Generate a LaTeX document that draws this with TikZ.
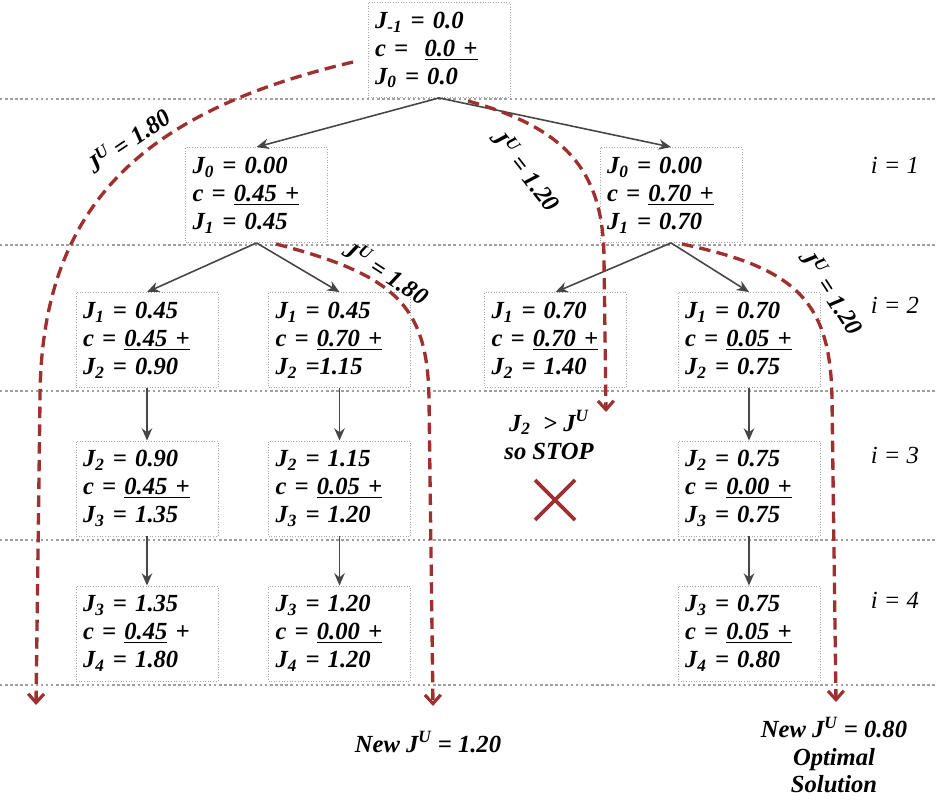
\documentclass[tikz,border=0pt]{standalone}
\usepackage{fontspec}
\setmainfont{Liberation Serif}
\usepackage{xcolor}
\usetikzlibrary{arrows.meta, positioning}
\definecolor{boundred}{RGB}{158,48,48}
\definecolor{linkgray}{RGB}{70,70,70}
\newcommand{\Jsub}[1]{J\textsubscript{#1}}
\newcommand{\JU}{J\textsuperscript{U}}

\begin{document}
\begin{tikzpicture}[
  x=0.02cm, y=-0.02cm,
  every node/.style={font=\fontsize{14}{15.9}\selectfont\bfseries\itshape},
  box/.style={draw=gray!70, densely dotted, line width=0.5pt, fill=white,
              minimum width=2.84cm, minimum height=1.9cm, text width=2.56cm,
              inner sep=0.14cm, align=left},
  link/.style={-{Stealth[length=7pt,width=6pt]}, draw=linkgray, line width=0.9pt},
  bound/.style={draw=boundred, line width=1.9pt, dash pattern=on 6.5pt off 3.6pt,
                -{Straight Barb[length=5pt,width=9pt,line width=1.8pt]}},
  level/.style={draw=gray!75, line width=1.4pt, dash pattern=on 1.4pt off 1.5pt},
  lvl/.style={font=\fontsize{14}{15.9}\selectfont\itshape},
  note/.style={align=center},
]
\useasboundingbox (0,0) rectangle (936,801);

% stage separators
\foreach \yy in {99,245,391,540,685}
  \draw[level] (0,\yy) -- (936,\yy);

% tree nodes
\node[box] (root) at (439,50)    {\Jsub{-1} =\ 0.0\\ c =\ \ \underline{0.0 +}\\ \Jsub{0} = 0.0};
\node[box] (l1a)  at (256.5,195) {\Jsub{0} =\ 0.00\\ c = \underline{0.45 +}\\ \Jsub{1} =\ 0.45};
\node[box] (l1b)  at (671,195)   {\Jsub{0} = 0.00\\ c =\ \underline{0.70 +}\\ \Jsub{1} =\ 0.70};

\node[box] (l2a)  at (147,340)   {\Jsub{1} = 0.45\\ c\ = \underline{0.45 +}\\ \Jsub{2} = 0.90};
\node[box] (l2b)  at (339.5,340) {\Jsub{1} = 0.45\\ c\ = \underline{0.70 +}\\ \Jsub{2} =1.15};
\node[box] (l2c)  at (555.5,340) {\Jsub{1} = 0.70\\ c = \underline{0.70 +}\\ \Jsub{2} = 1.40};
\node[box] (l2d)  at (749,340)   {\Jsub{1} = 0.70\\ c\ = \underline{0.05 +}\\ \Jsub{2} = 0.75};

\node[box] (l3a)  at (147,488.5)   {\Jsub{2} = 0.90\\ c\ = \underline{0.45 +}\\ \Jsub{3} = 1.35};
\node[box] (l3b)  at (339.5,488.5) {\Jsub{2} = 1.15\\ c\ = \underline{0.05 +}\\ \Jsub{3} = 1.20};
\node[box] (l3d)  at (749,488.5)   {\Jsub{2} = 0.75\\ c\ = \underline{0.00 +}\\ \Jsub{3} = 0.75};

\node[box] (l4a)  at (147,633.5)   {\Jsub{3} = 1.35\\ c\ = \underline{0.45} +\\ \Jsub{4} = 1.80};
\node[box] (l4b)  at (339.5,633.5) {\Jsub{3} = 1.20\\ c\ =\ \underline{0.00 +}\\ \Jsub{4} =\ 1.20};
\node[box] (l4d)  at (749,633.5)   {\Jsub{3} = 0.75\\ c\ = \underline{0.05 +}\\ \Jsub{4} = 0.80};

% branches
\draw[link] (root.south) -- (l1a.north);
\draw[link] (root.south) -- (l1b.north);
\draw[link] (l1a.south) -- (l2a.north);
\draw[link] (l1a.south) -- (l2b.north);
\draw[link] (l1b.south) -- (l2c.north);
\draw[link] (l1b.south) -- (l2d.north);
\draw[link] (l2a) -- (l3a);
\draw[link] (l2b) -- (l3b);
\draw[link] (l2d) -- (l3d);
\draw[link] (l3a) -- (l4a);
\draw[link] (l3b) -- (l4b);
\draw[link] (l3d) -- (l4d);

% stage labels
\node[lvl] (i1) at (895,165) {i = 1};
\node[lvl] (i2) at (895,305) {i = 2};
\node[lvl] (i3) at (895,455) {i = 3};
\node[lvl] (i4) at (895,600) {i = 4};

% upper bound sweeps
\coordinate (sA) at (353,62);
\coordinate (eA) at (36,705);
\coordinate (sB) at (468,101);
\coordinate (eB) at (606,412);
\coordinate (sC) at (276,244);
\coordinate (eC) at (433,706);
\coordinate (sD) at (682,244);
\coordinate (eD) at (836,702);

\draw[bound] (sA) .. controls (150,110) and (40,200) .. (40,400) -- (eA);
\draw[bound] (sB) .. controls (565,128) and (604,170) .. (604,260) -- (eB);
\draw[bound] (sC) .. controls (395,275) and (428,305) .. (429,400) -- (eC);
\draw[bound] (sD) .. controls (795,268) and (831,300) .. (832,400) -- (eD);

\node[rotate=34]  (bA) at (128,140) {\JU\ = 1.80};
\node[rotate=-52] (bB) at (527,170) {\JU\ = 1.20};
\node[rotate=-33] (bC) at (387,272) {\JU\ = 1.80};
\node[rotate=-57] (bD) at (833,292) {\JU\ = 1.20};

% pruned branch
\node[note] (stop) at (549,435) {\Jsub{2}\ \ > \JU\\ so STOP};
\draw[draw=boundred, line width=2.2pt] (535,480) -- (575,520);
\draw[draw=boundred, line width=2.2pt] (535,520) -- (575,480);

% outcomes
\node[note] (newA) at (428,742) {New \JU\ = 1.20};
\node[note, font=\fontsize{14}{15.5}\selectfont\bfseries\itshape] (newD) at (834,755) {New \JU\ = 0.80\\ Optimal\\ Solution};
\end{tikzpicture}
\end{document}
